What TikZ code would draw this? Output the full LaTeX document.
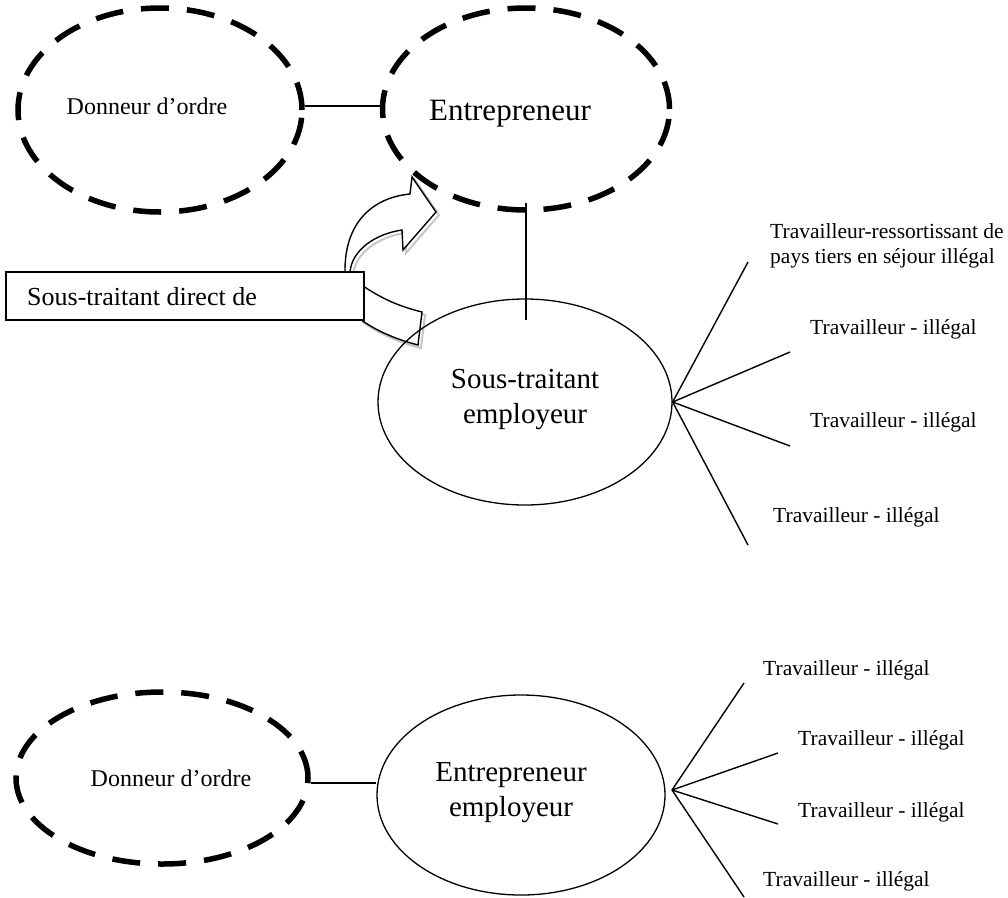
\documentclass[tikz,border=0pt]{standalone}
\usepackage{fontspec}
\setmainfont{Liberation Serif}
\usetikzlibrary{shapes.geometric}
\begin{document}
\begin{tikzpicture}[x=1pt,y=-1pt,
  dashell/.style={draw, ellipse, line width=5.5pt, dash pattern=on 28pt off 18pt, inner sep=0pt},
  solell/.style={draw, ellipse, line width=1.3pt, inner sep=0pt},
  conn/.style={line width=1.4pt},
  lbl/.style={font=\fontsize{21.5}{25}\selectfont, inner sep=0pt, anchor=west, align=left},
  small/.style={font=\fontsize{24}{28}\selectfont, inner sep=0pt},
  big/.style={font=\fontsize{29}{35}\selectfont, inner sep=0pt, align=center}]
\useasboundingbox (0,0) rectangle (1008,897);

% ---------- top group ----------
\node[dashell, minimum width=284pt, minimum height=204pt] (don1) at (160,110) {};
\node[small] (don1t) at (147,106) {Donneur d’ordre};
\node[dashell, minimum width=287pt, minimum height=202pt] (ent1) at (526,109) {};
\node[big, font=\fontsize{31}{36}\selectfont] (ent1t) at (510,114) {Entrepreneur};
\draw[conn] ([yshift=4pt]don1.east) -- ([yshift=4pt]don1.east -| ent1.west);

% curved arrow (shadow then body)
\def\arrowpath{(418,345) .. controls (398,340) and (376,331) .. (360,319) -- (345,290) -- (345,270)
  .. controls (345,225) and (370,198) .. (410,194) -- (412,177) -- (436,212) -- (403,250) -- (402,230)
  .. controls (375,234) and (352,250) .. (350,272) -- (356,281)
  .. controls (382,300) and (402,307) .. (422,312) -- cycle}
\draw[gray!45, line width=2pt, xshift=3pt, yshift=-3pt] \arrowpath;
\draw[fill=white, line width=1.4pt, line join=miter] \arrowpath;

% box
\node[draw, fill=white, line width=1.5pt, minimum width=358pt, minimum height=48pt, anchor=north west, inner sep=0pt] (box) at (5,271) {};
\node[font=\fontsize{26}{30}\selectfont, inner sep=0pt, anchor=west] (boxt) at (27,297) {Sous-traitant direct de};

\node[solell, minimum width=294pt, minimum height=206pt] (sous) at (525,402) {};
\node[big] (sous1t) at (525,400) {Sous-traitant\\employeur};

\coordinate (vtop) at ([yshift=10pt]ent1.south);
\coordinate (vbot) at ([yshift=-22pt]sous.north);
\draw[conn] (vtop) -- (vtop |- vbot);

\coordinate (f1) at (748,262);
\coordinate (f2) at (790,352);
\coordinate (f3) at (790,446);
\coordinate (f4) at (748,545);
\foreach \f in {f1,f2,f3,f4} \draw[conn] (sous.east) -- (\f);
\node[lbl] (l1) at (770,246) {Travailleur-ressortissant de\\pays tiers en séjour illégal};
\node[lbl] (l2) at (810,329) {Travailleur - illégal};
\node[lbl] (l3) at (810,422) {Travailleur - illégal};
\node[lbl] (l4) at (773,517) {Travailleur - illégal};

% ---------- bottom group ----------
\node[dashell, minimum width=292pt, minimum height=172pt] (don2) at (162,778) {};
\node[small] (don2t) at (171,778) {Donneur d’ordre};
\node[solell, minimum width=288pt, minimum height=200pt] (ent2) at (521,795) {};
\node[big] (ent2t) at (511,793) {Entrepreneur\\employeur};
\draw[conn] ([yshift=-5pt]don2.east) -- ([yshift=-5pt]don2.east -| ent2.west);

\coordinate (o2) at (672,790);
\coordinate (g1) at (744,683);
\coordinate (g2) at (778,753);
\coordinate (g3) at (778,824);
\coordinate (g4) at (744,897);
\foreach \g in {g1,g2,g3,g4} \draw[conn] (o2) -- (\g);
\node[lbl] (m1) at (763,670) {Travailleur - illégal};
\node[lbl] (m2) at (798,740) {Travailleur - illégal};
\node[lbl] (m3) at (798,812) {Travailleur - illégal};
\node[lbl] (m4) at (763,881) {Travailleur - illégal};
\end{tikzpicture}
\end{document}
